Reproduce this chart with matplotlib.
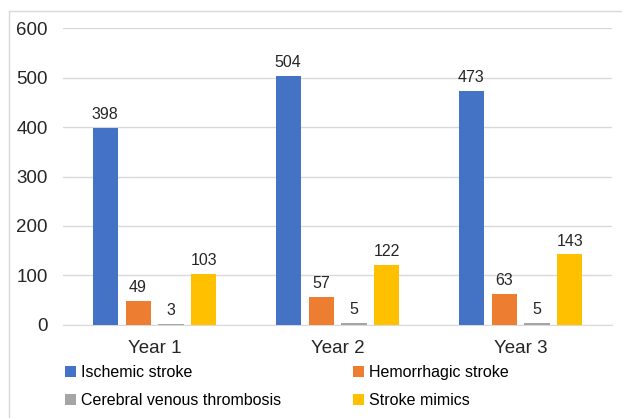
import matplotlib.pyplot as plt
import numpy as np
from matplotlib.lines import Line2D

plt.rcParams['font.family'] = ['Liberation Sans', 'DejaVu Sans']

years = ['Year 1', 'Year 2', 'Year 3']
series = ['Ischemic stroke', 'Hemorrhagic stroke', 'Cerebral venous thrombosis', 'Stroke mimics']
ischemic = [398, 504, 473]
hemorrhagic = [49, 57, 63]
cvt = [3, 5, 5]
mimics = [103, 122, 143]
colors = ['#4472C4', '#ED7D31', '#A5A5A5', '#FFC000']

values = [ischemic, hemorrhagic, cvt, mimics]

fig = plt.figure(figsize=(6.22, 4.18), dpi=100)
ax = fig.add_axes([0.1013, 0.2225, 0.8827, 0.7105])

x = np.arange(len(years))
step = 0.18
width = 0.137
bars = []
for i, (name, vals) in enumerate(zip(series, values)):
    b = ax.bar(x + (i - 1.5) * step, vals, width, color=colors[i], label=name, zorder=3)
    ax.bar_label(b, padding=4, fontsize=11.5, color='#262626')
    bars.append(b)

ax.set_xlim(-0.5, 2.5)
ax.set_ylim(0, 600)
ax.set_yticks(range(0, 601, 100))
ax.set_xticks(x)
ax.set_xticklabels(years, fontsize=13.5, color='#262626')
ax.tick_params(axis='y', labelsize=13.5, colors='#262626', length=0, pad=11)
ax.tick_params(axis='x', length=0, pad=11)
ax.grid(axis='y', color='#D9D9D9', linewidth=1, zorder=0)
for s in ['top', 'right', 'left']:
    ax.spines[s].set_visible(False)
ax.spines['bottom'].set_color('#D9D9D9')

# legend: column-wise order
order = [0, 2, 1, 3]
fig.legend([bars[i] for i in order], [series[i] for i in order], ncol=2,
           loc='upper left', bbox_to_anchor=(0.105, 0.127), frameon=False,
           fontsize=11.5, handlelength=0.7, handleheight=0.7, handletextpad=0.3,
           columnspacing=4.5, labelspacing=0.8, borderaxespad=0, borderpad=0)

# figure border (top and left)
fig.add_artist(Line2D([9 / 622, 1], [1 - 11 / 418, 1 - 11 / 418], color='#D9D9D9', lw=1))
fig.add_artist(Line2D([9 / 622, 9 / 622], [0, 1 - 11 / 418], color='#D9D9D9', lw=1))

fig.savefig('out.png', dpi=100)
